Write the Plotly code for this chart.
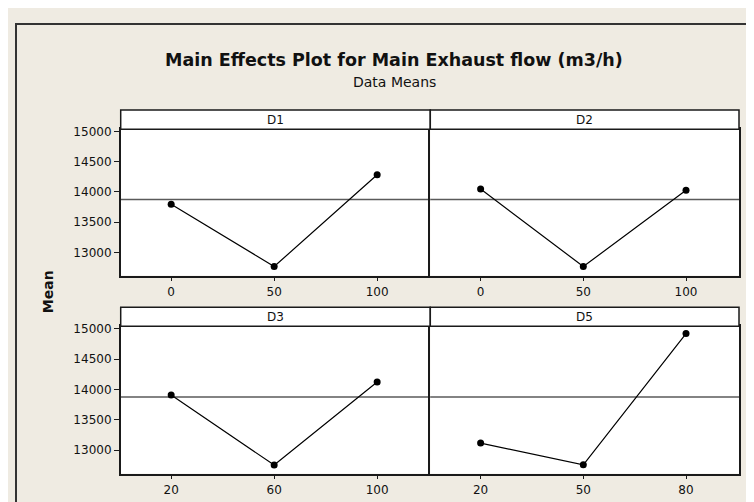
import plotly.graph_objects as go

# ---- data ----
factors = ["D1", "D2", "D3", "D5"]
levels_D1 = [0, 50, 100]
means_D1 = [13798, 12766, 14284]
levels_D2 = [0, 50, 100]
means_D2 = [14049, 12766, 14028]
levels_D3 = [20, 60, 100]
means_D3 = [13907, 12756, 14123]
levels_D5 = [20, 50, 80]
means_D5 = [13118, 12761, 14919]
grand_mean = 13875
y_tick_vals = [13000, 13500, 14000, 14500, 15000]
y_tick_text = ["13000", "13500", "14000", "14500", "15000"]

title_text = "Main Effects Plot for Main Exhaust flow (m3/h)"
subtitle_text = "Data Means"
y_title = "Mean"

# ---- layout geometry (pixels -> paper) ----
W, H = 754, 502
BG = "#EFEBE2"
FONT = "DejaVu Sans"
LINE = "#1a1a1a"


def px(xp):
    return xp / W


def py(yp):
    return 1 - yp / H


col_dom = [[px(112.7), px(422.3)], [px(422.3), px(731)]]
row_dom = [[py(265.3), py(117.5)], [py(465.3), py(316.5)]]
strip_dom = [[py(117.5), py(98)], [py(316.5), py(297.3)]]
y_range = [12615, 15037]

panels = [
    (levels_D1, means_D1, 0, 0),
    (levels_D2, means_D2, 0, 1),
    (levels_D3, means_D3, 1, 0),
    (levels_D5, means_D5, 1, 1),
]

fig = go.Figure()
layout = dict(
    width=W, height=H, autosize=False,
    margin=dict(l=0, r=0, t=0, b=0),
    paper_bgcolor=BG, plot_bgcolor="white",
    showlegend=False,
    font=dict(family=FONT, size=12, color="#111"),
)
shapes = []
annotations = []

for i, (lv, mv, r, c) in enumerate(panels):
    n = "" if i == 0 else str(i + 1)
    xa, ya = "x" + n, "y" + n
    fig.add_trace(go.Scatter(
        x=lv, y=mv, xaxis=xa, yaxis=ya, mode="lines+markers",
        line=dict(color="black", width=1.2),
        marker=dict(color="black", size=7),
        hoverinfo="x+y",
    ))
    span = max(lv) - min(lv)
    layout["xaxis" + n] = dict(
        domain=col_dom[c], anchor=ya,
        range=[min(lv) - 0.245 * span, max(lv) + 0.258 * span],
        tickmode="array", tickvals=lv, ticktext=[str(v) for v in lv],
        showline=True, mirror=True, linecolor=LINE, linewidth=1.5,
        ticks="outside", ticklen=4, tickcolor=LINE, tickwidth=1,
        showgrid=False, zeroline=False,
        tickfont=dict(family=FONT, size=12, color="#111"),
    )
    left = c == 0
    layout["yaxis" + n] = dict(
        domain=row_dom[r], anchor=xa, range=y_range,
        tickmode="array", tickvals=y_tick_vals, ticktext=y_tick_text,
        showticklabels=left,
        ticks="outside" if left else "", ticklen=5, tickcolor=LINE,
        tickwidth=1,
        showline=True, mirror=(not left), linecolor=LINE, linewidth=1.5,
        showgrid=False, zeroline=False,
        tickfont=dict(family=FONT, size=12, color="#111"),
    )
    # reference (grand mean) line
    shapes.append(dict(
        type="line", xref=xa + " domain", yref=ya,
        x0=0, x1=1, y0=grand_mean, y1=grand_mean,
        line=dict(color="#5a5a5a", width=1.5), layer="below",
    ))
    # strip header
    shapes.append(dict(
        type="rect", xref="paper", yref="paper",
        x0=col_dom[c][0], x1=col_dom[c][1],
        y0=strip_dom[r][0], y1=strip_dom[r][1],
        fillcolor="white", line=dict(color=LINE, width=1.5),
    ))
    annotations.append(dict(
        text=factors[i], xref="paper", yref="paper",
        x=(col_dom[c][0] + col_dom[c][1]) / 2,
        y=(strip_dom[r][0] + strip_dom[r][1]) / 2,
        xanchor="center", yanchor="middle", showarrow=False,
        font=dict(family=FONT, size=12, color="#111"),
    ))

# outer frame
shapes.append(dict(
    type="rect", xref="paper", yref="paper",
    x0=px(8), x1=1.1, y0=-0.1, y1=py(11),
    line=dict(color="#333", width=2), fillcolor="rgba(0,0,0,0)",
    layer="below",
))

annotations += [
    dict(text="<b>" + title_text + "</b>", xref="paper", yref="paper",
         x=px(386), y=py(47), xanchor="center", yanchor="middle",
         showarrow=False, font=dict(family=FONT, size=17.5, color="#111")),
    dict(text=subtitle_text, xref="paper", yref="paper",
         x=px(386), y=py(70), xanchor="center", yanchor="middle",
         showarrow=False, font=dict(family=FONT, size=14, color="#111")),
    dict(text="<b>" + y_title + "</b>", xref="paper", yref="paper",
         x=px(40), y=py(282), xanchor="center", yanchor="middle",
         textangle=-90, showarrow=False,
         font=dict(family=FONT, size=14, color="#111")),
]

layout["shapes"] = shapes
layout["annotations"] = annotations
fig.update_layout(**layout)
fig.write_html("out.html")
